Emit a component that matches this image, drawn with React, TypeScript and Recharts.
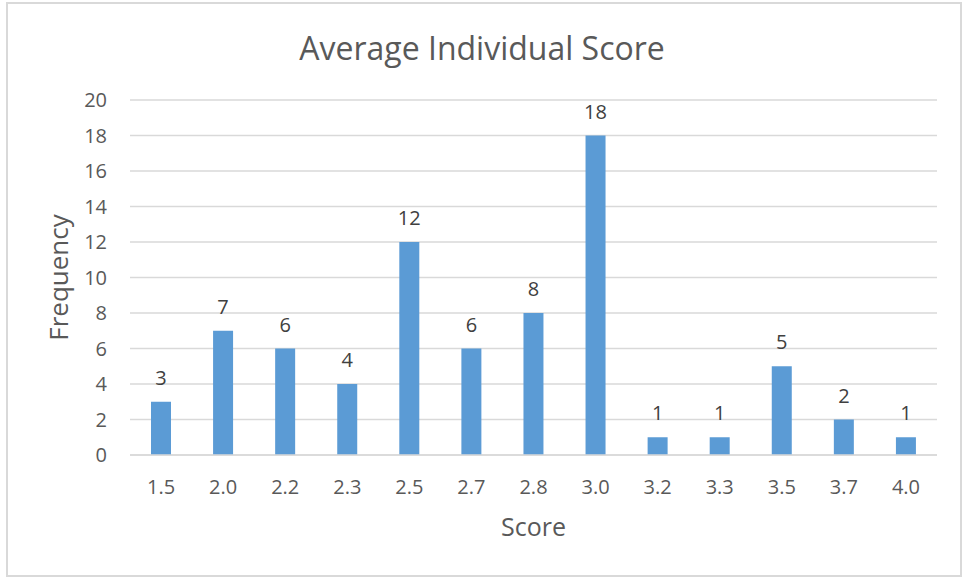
import React from 'react';
import { BarChart, Bar, XAxis, YAxis, CartesianGrid, LabelList, Label } from 'recharts';

const scores = ['1.5', '2.0', '2.2', '2.3', '2.5', '2.7', '2.8', '3.0', '3.2', '3.3', '3.5', '3.7', '4.0'];
const frequency = [3, 7, 6, 4, 12, 6, 8, 18, 1, 1, 5, 2, 1];
const yTicks = [0, 2, 4, 6, 8, 10, 12, 14, 16, 18, 20];

const data = scores.map((score, i) => ({ score, frequency: frequency[i] }));

const FONT = '"Open Sans", "Liberation Sans", sans-serif';
const TEXT = '#595959';

export default function App() {
  return (
    <div style={{ position: 'absolute', left: 0, top: 0, width: 964, height: 580, background: '#fff', fontFamily: FONT }}>
      <div
        style={{
          position: 'absolute',
          left: 6,
          top: 2,
          width: 956,
          height: 575,
          border: '2px solid #d9d9d9',
          boxSizing: 'border-box',
        }}
      />
      <div
        style={{
          position: 'absolute',
          left: 0,
          top: 26,
          width: 964,
          textAlign: 'center',
          fontSize: 32,
          color: TEXT,
          lineHeight: '44px',
        }}
      >
        Average Individual Score
      </div>
      <div style={{ position: 'absolute', left: 0, top: 0 }}>
        <BarChart width={964} height={580} data={data} margin={{ top: 100, right: 27, bottom: 35, left: 40 }}>
          <CartesianGrid vertical={false} stroke="#d9d9d9" strokeWidth={1.5} />
          <XAxis
            dataKey="score"
            height={90}
            tickLine={false}
            tickSize={0}
            tickMargin={25}
            axisLine={{ stroke: '#d9d9d9', strokeWidth: 1.5 }}
            tick={{ fill: TEXT, fontSize: 20, fontFamily: FONT }}
          >
            <Label value="Score" position="insideBottom" offset={9} style={{ fill: TEXT, fontSize: 25, fontFamily: FONT }} />
          </XAxis>
          <YAxis
            width={90}
            domain={[0, 20]}
            ticks={yTicks}
            tickLine={false}
            axisLine={false}
            tickSize={0}
            tickMargin={23}
            tick={{ fill: TEXT, fontSize: 20, fontFamily: FONT }}
          >
            <Label
              value="Frequency"
              angle={-90}
              position="insideLeft"
              offset={19}
              style={{ fill: TEXT, fontSize: 26, fontFamily: FONT, textAnchor: 'middle' }}
            />
          </YAxis>
          <Bar dataKey="frequency" fill="#5b9bd5" barSize={20} isAnimationActive={false}>
            <LabelList dataKey="frequency" position="top" offset={17} style={{ fill: '#404040', fontSize: 20, fontFamily: FONT }} />
          </Bar>
        </BarChart>
      </div>
    </div>
  );
}
